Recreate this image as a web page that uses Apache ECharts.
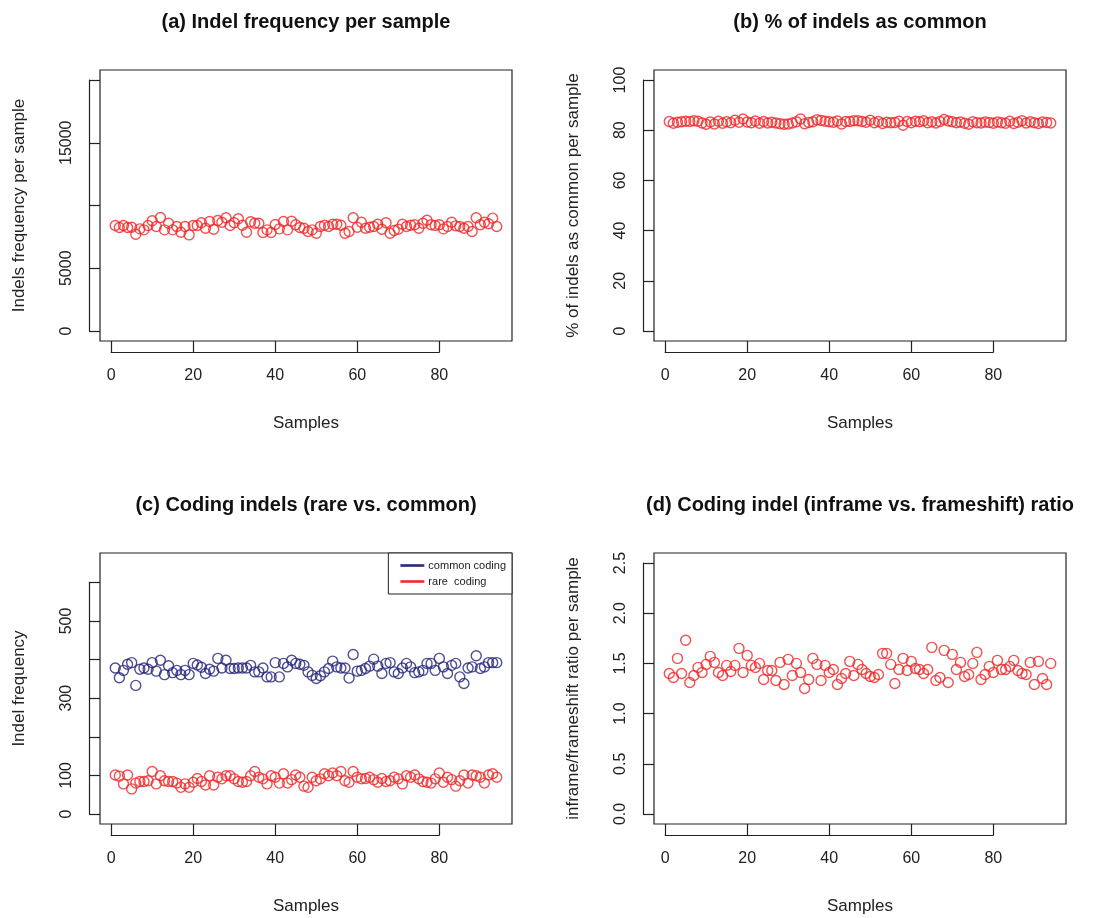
<!DOCTYPE html>
<html>
<head>
<meta charset="utf-8">
<title>Indel panels</title>
<script src="https://cdn.jsdelivr.net/npm/echarts@6/dist/echarts.min.js"></script>
<style>
  html, body { margin: 0; padding: 0; background: #fff; }
  #main { width: 1110px; height: 918px; }
</style>
</head>
<body>
<div id="main"></div>
<script>
// ---- data (sample 1..94) ----
var indelFreq = [8400,8250,8400,8250,8270,7710,8140,8060,8400,8780,8330,9040,8060,8590,8060,8330,7870,8330,7660,8400,
  8400,8620,8190,8730,8110,8800,8670,9020,8400,8620,8940,8430,7870,8700,8590,8590,7850,8060,7850,8490,
  8140,8730,8060,8750,8460,8250,8190,7930,8060,7790,8330,8430,8330,8510,8510,8430,7790,7930,9020,8270,
  8670,8190,8270,8330,8510,8110,8620,7790,8010,8110,8510,8330,8430,8460,8190,8590,8830,8460,8400,8460,
  8140,8330,8670,8380,8330,8190,8330,7930,9020,8460,8670,8540,8990,8330];

var pctCommon = [83.5,82.8,83.2,83.4,83.6,83.5,83.8,83.6,82.9,82.4,83.3,82.5,83.6,82.8,83.4,83.0,84.0,83.2,84.5,83.3,
  83.0,83.7,82.8,83.5,82.9,83.2,82.9,82.6,82.4,82.5,82.9,83.4,84.5,82.6,83.1,83.4,84.2,83.9,83.6,83.4,
  83.2,83.7,82.5,83.5,83.5,83.8,83.8,83.5,83.2,84.0,83.0,83.5,82.7,83.2,83.0,83.1,83.6,82.0,83.5,83.0,
  83.6,83.4,83.8,83.0,83.4,82.9,83.5,84.3,83.7,83.4,83.0,83.3,82.8,82.4,83.4,83.0,82.9,83.3,83.1,82.8,
  83.3,83.0,82.8,83.6,82.7,83.2,83.8,82.9,83.4,83.0,82.7,83.3,83.1,82.9];

var commonCoding = [378,353,372,388,392,333,375,378,375,392,370,398,361,384,366,372,361,372,361,390,
  386,380,364,375,370,403,378,398,377,377,378,378,378,385,368,368,378,355,355,392,
  355,390,381,398,390,388,385,368,359,351,358,368,377,396,381,378,378,352,413,370,
  372,377,383,401,383,364,390,392,368,364,378,390,381,366,368,372,390,390,372,403,
  381,364,385,390,355,338,378,381,410,377,381,392,392,392];

var rareCoding = [101,98,78,101,65,80,84,84,86,110,78,99,86,84,84,80,69,78,69,82,
  92,84,75,99,75,95,91,99,99,91,84,82,84,99,110,95,91,78,99,95,
  80,104,80,89,101,95,72,69,95,86,91,104,99,106,99,110,86,82,110,95,
  91,92,95,89,82,92,84,86,95,91,78,99,95,101,91,84,82,80,91,106,
  82,95,89,72,86,101,80,101,99,95,80,101,104,95];

var inframeRatio = [1.40,1.36,1.55,1.40,1.73,1.31,1.38,1.46,1.41,1.49,1.57,1.51,1.41,1.38,1.48,1.42,1.48,1.65,1.41,1.58,
  1.48,1.46,1.50,1.34,1.43,1.43,1.33,1.51,1.29,1.54,1.38,1.50,1.41,1.25,1.34,1.55,1.49,1.33,1.48,1.41,
  1.44,1.29,1.35,1.40,1.52,1.38,1.49,1.44,1.40,1.37,1.36,1.39,1.60,1.60,1.49,1.30,1.44,1.55,1.43,1.52,
  1.45,1.44,1.40,1.44,1.66,1.33,1.36,1.63,1.31,1.59,1.44,1.51,1.37,1.39,1.50,1.61,1.34,1.39,1.47,1.41,
  1.53,1.44,1.44,1.47,1.53,1.43,1.40,1.39,1.51,1.29,1.52,1.35,1.29,1.50];

var xTicks = [0, 20, 40, 60, 80];

function pairs(arr) {
  return arr.map(function (v, i) { return [i + 1, v]; });
}

var RED = '#f02626';
var NAVY = '#23237c';
var INK = '#222';
var FONT = '"Liberation Sans", Arial, sans-serif';

// panel boxes (pixels) and R style padded ranges
var panels = [
  { L: 100, R: 512, T: 70,  B: 341, ylo: 0, yhi: 20000, yStep: 5000, yTop: 20000, skip: [10000, 20000],
    title: '(a) Indel frequency per sample', yName: 'Indels frequency per sample', fmt: function (v) { return String(v); } },
  { L: 654, R: 1066, T: 70, B: 341, ylo: 0, yhi: 100, yStep: 20, yTop: 100, skip: [],
    title: '(b) % of indels as common', yName: '% of indels as common per sample', fmt: function (v) { return String(v); } },
  { L: 100, R: 512, T: 553, B: 824, ylo: 0, yhi: 650, yStep: 100, yTop: 600, skip: [200, 400, 600],
    title: '(c) Coding indels (rare vs. common)', yName: 'Indel frequency', fmt: function (v) { return String(v); } },
  { L: 654, R: 1066, T: 553, B: 824, ylo: 0, yhi: 2.5, yStep: 0.5, yTop: 2.5, skip: [],
    title: '(d) Coding indel (inframe vs. frameshift) ratio', yName: 'inframe/frameshift ratio per sample', fmt: function (v) { return v.toFixed(1); } }
];

var xlo = 1 - 0.04 * 93, xhi = 94 + 0.04 * 93;
var AXGAP = 11;   // axis line sits this far outside the box, ticks reach back to it

var grids = [], xAxes = [], yAxes = [], graphics = [];

panels.forEach(function (p, k) {
  var ypad = 0.04 * (p.yhi - p.ylo);
  p.ymin = p.ylo - ypad; p.ymax = p.yhi + ypad;

  grids.push({ left: p.L, top: p.T, width: p.R - p.L, height: p.B - p.T, show: true,
    borderColor: INK, borderWidth: 1.2, backgroundColor: 'transparent', outerBoundsMode: 'none' });
  xAxes.push({ gridIndex: k, type: 'value', min: xlo, max: xhi,
    axisLine: { show: false }, axisTick: { show: false }, axisLabel: { show: false }, splitLine: { show: false },
    name: 'Samples', nameLocation: 'middle', nameGap: 74,
    nameTextStyle: { fontFamily: FONT, fontSize: 17, color: INK } });
  yAxes.push({ gridIndex: k, type: 'value', min: p.ymin, max: p.ymax,
    axisLine: { show: false }, axisTick: { show: false }, axisLabel: { show: false }, splitLine: { show: false },
    name: p.yName, nameLocation: 'middle', nameGap: 72,
    nameTextStyle: { fontFamily: FONT, fontSize: 17, color: INK } });

  graphics.push({ type: 'text', x: (p.L + p.R) / 2, y: p.T - 48,
    style: { text: p.title, fontFamily: FONT, fontWeight: 'bold', fontSize: 20, fill: '#111',
      textAlign: 'center', textVerticalAlign: 'middle' } });
});

// axis grids: span only from first to last tick, like R's axis()
panels.forEach(function (p, k) {
  var px = function (v) { return p.L + (v - xlo) / (xhi - xlo) * (p.R - p.L); };
  var py = function (v) { return p.B - (v - p.ymin) / (p.ymax - p.ymin) * (p.B - p.T); };
  var g = 4 + k;
  var x0 = px(xTicks[0]), x1 = px(xTicks[xTicks.length - 1]);
  var y0 = py(p.ylo), y1 = py(p.yTop);
  grids.push({ left: x0, top: y1, width: x1 - x0, height: y0 - y1, show: false, outerBoundsMode: 'none' });
  xAxes.push({ gridIndex: g, type: 'value', min: xTicks[0], max: xTicks[xTicks.length - 1], interval: 20,
    position: 'bottom', offset: (p.B - y0) + AXGAP,
    axisLine: { show: true, onZero: false, lineStyle: { color: INK, width: 1.2 } },
    axisTick: { show: true, inside: true, length: AXGAP, lineStyle: { color: INK, width: 1.2 } },
    axisLabel: { fontFamily: FONT, fontSize: 16, color: INK, margin: 16 },
    splitLine: { show: false } });
  yAxes.push({ gridIndex: g, type: 'value', min: p.ylo, max: p.yTop, interval: p.yStep,
    position: 'left', offset: (x0 - p.L) + AXGAP,
    axisLine: { show: true, onZero: false, lineStyle: { color: INK, width: 1.2 } },
    axisTick: { show: true, inside: true, length: AXGAP, lineStyle: { color: INK, width: 1.2 } },
    axisLabel: { fontFamily: FONT, fontSize: 16, color: INK, rotate: 90, margin: 14,
      formatter: function (v) { return p.skip.indexOf(v) >= 0 ? '' : p.fmt(v); } },
    splitLine: { show: false } });
});

function scatter(name, k, data, color) {
  return { name: name, type: 'scatter', xAxisIndex: k, yAxisIndex: k, data: pairs(data),
    symbol: 'circle', symbolSize: 10, silent: true,
    itemStyle: { color: 'rgba(0,0,0,0)', borderColor: color, borderWidth: 1.4 } };
}

var chart = echarts.init(document.getElementById('main'), null, { renderer: 'canvas' });
chart.setOption({
  animation: false,
  backgroundColor: '#fff',
  grid: grids,
  xAxis: xAxes,
  yAxis: yAxes,
  graphic: graphics,
  legend: {
    data: [{ name: 'common coding', itemStyle: { color: NAVY } }, { name: 'rare  coding', itemStyle: { color: RED } }],
    orient: 'vertical', right: 1110 - 512, top: 553, icon: 'rect', itemWidth: 22, itemHeight: 1, itemGap: 5,
    borderColor: INK, borderWidth: 1, padding: [7, 6, 7, 12], backgroundColor: '#fff',
    textStyle: { fontFamily: FONT, fontSize: 11, color: INK }
  },
  series: [
    scatter('indels', 0, indelFreq, RED),
    scatter('common', 1, pctCommon, RED),
    scatter('common coding', 2, commonCoding, NAVY),
    scatter('rare  coding', 2, rareCoding, RED),
    scatter('ratio', 3, inframeRatio, RED)
  ]
});
</script>
</body>
</html>
